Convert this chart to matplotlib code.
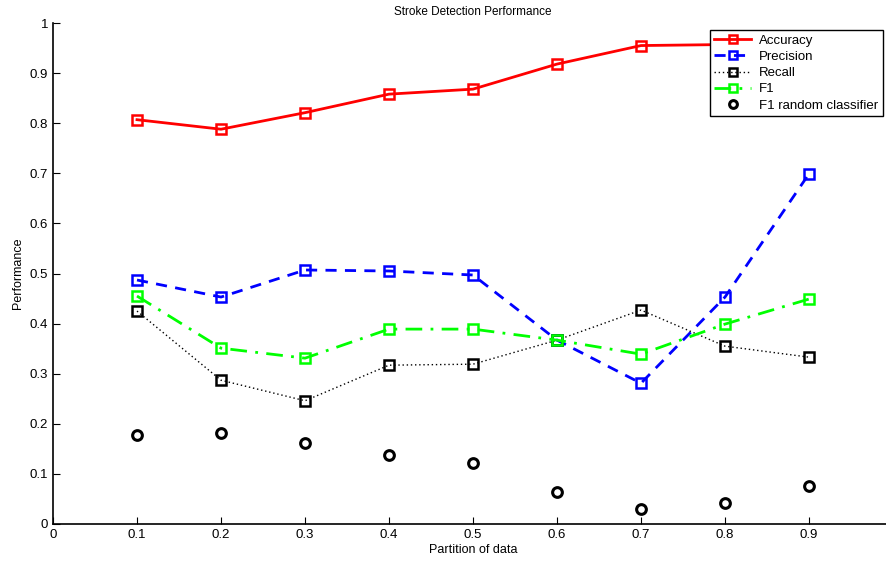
import matplotlib
matplotlib.use("Agg")
import matplotlib.pyplot as plt

plt.rcParams['font.family'] = ['Liberation Sans', 'DejaVu Sans']

partition = [0.1, 0.2, 0.3, 0.4, 0.5, 0.6, 0.7, 0.8, 0.9]
accuracy = [0.807, 0.788, 0.821, 0.858, 0.868, 0.918, 0.955, 0.957, 0.965]
precision = [0.487, 0.453, 0.507, 0.505, 0.497, 0.367, 0.281, 0.453, 0.699]
recall = [0.425, 0.287, 0.246, 0.317, 0.319, 0.367, 0.427, 0.355, 0.333]
f1 = [0.455, 0.351, 0.331, 0.389, 0.389, 0.367, 0.339, 0.399, 0.449]
f1_random = [0.178, 0.182, 0.162, 0.138, 0.122, 0.064, 0.030, 0.042, 0.076]
xticks = [0, 0.1, 0.2, 0.3, 0.4, 0.5, 0.6, 0.7, 0.8, 0.9]
xticklabels = ['0', '0.1', '0.2', '0.3', '0.4', '0.5', '0.6', '0.7', '0.8', '0.9']
yticks = [0, 0.1, 0.2, 0.3, 0.4, 0.5, 0.6, 0.7, 0.8, 0.9, 1.0]
yticklabels = ['0', '0.1', '0.2', '0.3', '0.4', '0.5', '0.6', '0.7', '0.8', '0.9', '1']

W, H = 886, 563
fig = plt.figure(figsize=(W / 100, H / 100), dpi=100)
ax = fig.add_axes([53 / W, 1 - 524 / H, 840 / W, 501 / H])

ms = 6.5
mew = 1.8
ax.plot(partition, accuracy, color='red', lw=2, ls='-', marker='s', ms=ms,
        mfc='none', mew=mew, label='Accuracy')
ax.plot(partition, precision, color='blue', lw=2, ls=(0, (4, 3)), marker='s', ms=ms,
        mfc='none', mew=mew, label='Precision')
ax.plot(partition, recall, color='black', lw=1, ls=(0, (1, 2)), marker='s', ms=ms,
        mfc='none', mew=mew, label='Recall')
ax.plot(partition, f1, color='#00ff00', lw=2, ls=(0, (6, 3, 1, 3)), marker='s', ms=ms,
        mfc='none', mew=mew, label='F1')
ax.plot(partition, f1_random, color='black', ls='none', marker='o', ms=7,
        mfc='none', mew=2.2, label='F1 random classifier')

ax.set_xlim(0, 1)
ax.set_ylim(0, 1)
ax.set_xticks(xticks)
ax.set_xticklabels(xticklabels)
ax.set_yticks(yticks)
ax.set_yticklabels(yticklabels)
ax.tick_params(direction='in', length=5, labelsize=9.5, width=0.8)
for s in ['top', 'right']:
    ax.spines[s].set_visible(False)
for s in ['left', 'bottom']:
    ax.spines[s].set_linewidth(1.2)

ax.set_title('Stroke Detection Performance', fontsize=8.5, pad=6)
ax.set_xlabel('Partition of data', fontsize=9, labelpad=2)
ax.set_ylabel('Performance', fontsize=9, labelpad=4)

leg = fig.legend(loc='upper right', bbox_to_anchor=(883 / W, 1 - 30 / H),
                 bbox_transform=fig.transFigure, fontsize=9.5, frameon=True,
                 fancybox=False, edgecolor='black', framealpha=1,
                 borderaxespad=0, handlelength=2.8, labelspacing=0.3,
                 borderpad=0.35, handletextpad=0.6, markerscale=0.8)
leg.get_frame().set_linewidth(1.0)

fig.savefig('out.png', dpi=100)
